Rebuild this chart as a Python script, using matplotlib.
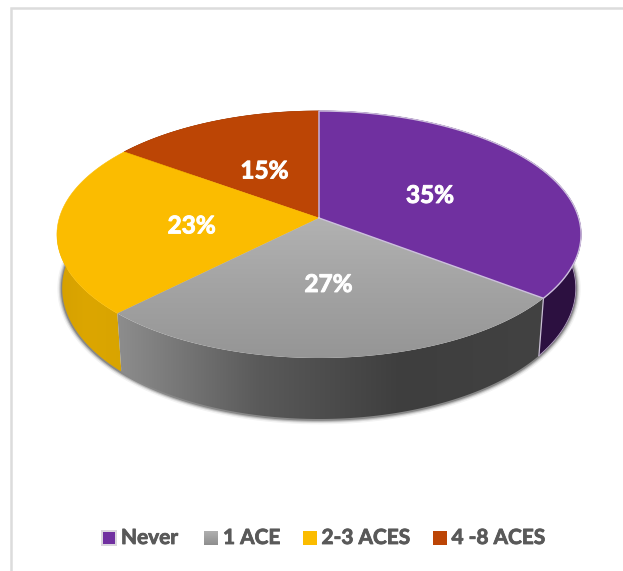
from __future__ import annotations

import matplotlib

matplotlib.use("Agg")
import matplotlib.patheffects as pe
import matplotlib.pyplot as plt
import numpy as np
from matplotlib.colors import LinearSegmentedColormap
from matplotlib.patches import Polygon, Rectangle

# Chart data, clockwise from twelve o'clock.
categories = ["Never", "1 ACE", "2-3 ACES", "4 -8 ACES"]
percent_values = [35.4, 27.0, 22.6, 15.0]

TOP_COLORS = ["#7030A0", "#A6A6A6", "#FBBC00", "#BC4505"]
SIDE_COLORS = ["#2C1040", "#4A4A4A", "#D8A400", "#8A3203"]
LEGEND_X = [102, 204, 303, 433]
LEGEND_TEXT_X = [121, 223, 321.5, 451.5]

# Perspective model of the disc, in image pixels.
CX, CY = 319.0, 218.0
RX, RY = 259.7, 121.3
PERSP = 0.1336
DEPTH_SCALE_X = 0.98
DEPTH_SCALE_Y = 1.06
FRONT_TOP, FRONT_BOTTOM = 358.0, 419.0
LABEL_FRACTION = 0.49
LABEL_DROP = 3.0


def rim(theta, frac=1.0):
    """Top-face point for clockwise angle theta (radians from twelve o'clock)."""
    s = 1.0 / (1.0 + PERSP * frac * np.cos(theta))
    x = CX + RX * frac * np.sin(theta) * s
    y = CY - RY * frac * np.cos(theta) * s
    return x, y


def lower_rim(theta):
    x, y = rim(theta)
    return CX + (x - CX) * DEPTH_SCALE_X, FRONT_BOTTOM + DEPTH_SCALE_Y * (y - FRONT_TOP)


def gradient_fill(ax, patch, colors, extent, horizontal, zorder):
    # imshow clipped to a polygon, used for the shaded grey pieces
    cmap = LinearSegmentedColormap.from_list("shade", colors)
    ramp = np.linspace(0, 1, 256)
    img = ramp[None, :] if horizontal else ramp[:, None]
    im = ax.imshow(img, cmap=cmap, extent=extent, origin="upper", aspect="auto",
                   zorder=zorder, interpolation="bilinear")
    patch.set_facecolor("none")
    patch.set_edgecolor("none")
    patch.set_zorder(zorder)
    ax.add_patch(patch)
    im.set_clip_path(patch)


def bold_stroke(color, width):
    # the installed Lato bold is lighter than the original face, thicken it a little
    return [pe.withStroke(linewidth=width, foreground=color)]


fig = plt.figure(figsize=(6.23, 5.71), dpi=100)
ax = fig.add_axes([0, 0, 1, 1])
plt.rcParams["font.family"] = ["Lato", "DejaVu Sans"]

# Chart frame: only the top and left edges show in the crop.
ax.plot([10.5, 10.5, 623], [571, 7.5, 7.5], color="#DCDCDC", lw=1.8, zorder=1,
        solid_joinstyle="miter")

edges = np.radians(np.cumsum([0] + percent_values) * 3.6)

# Soft shadow around the underside of the disc.
all_theta = np.linspace(0, 2 * np.pi, 400)
shadow_x, shadow_y = lower_rim(all_theta)
for lw, alpha in [(7, 0.05), (5, 0.10), (3.5, 0.16), (2, 0.25)]:
    ax.plot(shadow_x, shadow_y + 0.5, color="black", lw=lw, alpha=alpha, zorder=2)

# Sides of the disc, back slices first.
draw_order = [3, 0, 2, 1]
for i in draw_order:
    theta = np.linspace(edges[i], edges[i + 1], 160)
    top_x, top_y = rim(theta)
    low_x, low_y = lower_rim(theta)
    pts = np.vstack([np.column_stack([top_x, top_y]),
                     np.column_stack([low_x, low_y])[::-1]])
    if categories[i] == "1 ACE":
        side = Polygon(pts, closed=True)
        gradient_fill(ax, side, ["#8E8E8E", "#5A5A5A", "#3E3E3E", "#424242"],
                      (115, 545, 430, 290), True, 3 + draw_order.index(i) * 0.1)
    elif categories[i] == "2-3 ACES":
        side = Polygon(pts, closed=True)
        gradient_fill(ax, side, ["#D49F00", "#DCA600", "#D8A400"],
                      (50, 125, 380, 230), True, 3 + draw_order.index(i) * 0.1)
    else:
        ax.add_patch(Polygon(pts, closed=True, facecolor=SIDE_COLORS[i],
                             edgecolor=SIDE_COLORS[i], lw=0.5,
                             zorder=3 + draw_order.index(i) * 0.1))

# Light seam along the purple side and at the gray/purple corner.
corner_top = rim(edges[1])
corner_low = lower_rim(edges[1])
ax.plot([corner_top[0], corner_low[0]], [corner_top[1], corner_low[1]],
        color="#C9BFD4", lw=0.9, zorder=4)
theta = np.linspace(edges[0] + 1.15, edges[1], 60)
seam_x, seam_y = lower_rim(theta)
ax.plot(seam_x, seam_y, color="#B9A9C6", lw=0.6, zorder=4)

# Top face.
for i in draw_order:
    theta = np.linspace(edges[i], edges[i + 1], 240)
    x, y = rim(theta)
    pts = np.vstack([[CX, CY], np.column_stack([x, y])])
    if categories[i] == "1 ACE":
        gradient_fill(ax, Polygon(pts, closed=True),
                      ["#B2B2B2", "#A3A3A3", "#959595"],
                      (100, 560, 360, 216), False, 5 + draw_order.index(i) * 0.1)
    else:
        ax.add_patch(Polygon(pts, closed=True, facecolor=TOP_COLORS[i],
                             edgecolor=TOP_COLORS[i], lw=0.4,
                             zorder=5 + draw_order.index(i) * 0.1))

# The purple slice carries a pale outline.
theta = np.linspace(edges[0], edges[1], 240)
x, y = rim(theta)
ax.plot(np.r_[CX, x, CX], np.r_[CY, y, CY], color="#CDBFDD", lw=1.0, zorder=6,
        solid_joinstyle="round")

# Percentage labels.
for i, value in enumerate(percent_values):
    mid = (edges[i] + edges[i + 1]) / 2
    x, y = rim(mid, LABEL_FRACTION)
    ax.text(x, y + LABEL_DROP, f"{value:.0f}%", color="white", fontsize=17.5,
            fontweight="bold", ha="center", va="center", zorder=7,
            path_effects=bold_stroke("white", 0.7))

# Legend, placed by hand to sit where the original has it.
for i, name in enumerate(categories):
    if name == "Never":
        ax.add_patch(Rectangle((LEGEND_X[i] - 1, 530), 16, 16, facecolor="#DAD6DE",
                               edgecolor="none", zorder=3))
        ax.add_patch(Rectangle((LEGEND_X[i] + 1, 532), 12, 12, facecolor=TOP_COLORS[i],
                               edgecolor="none", zorder=4))
    elif name == "1 ACE":
        gradient_fill(ax, Rectangle((LEGEND_X[i], 531), 14, 14),
                      ["#B0B0B0", "#8E8E8E"],
                      (LEGEND_X[i], LEGEND_X[i] + 14, 545, 531), False, 3)
    else:
        ax.add_patch(Rectangle((LEGEND_X[i], 531), 14, 14, facecolor=TOP_COLORS[i],
                               edgecolor="none", zorder=3))
    ax.text(LEGEND_TEXT_X[i], 538, name, color="#595959", fontsize=15, fontweight="bold",
            ha="left", va="center", zorder=4, path_effects=bold_stroke("#595959", 0.6))

ax.set_xlim(0, 623)
ax.set_ylim(571, 0)
ax.axis("off")

fig.savefig("out.png", dpi=100)
plt.close(fig)
